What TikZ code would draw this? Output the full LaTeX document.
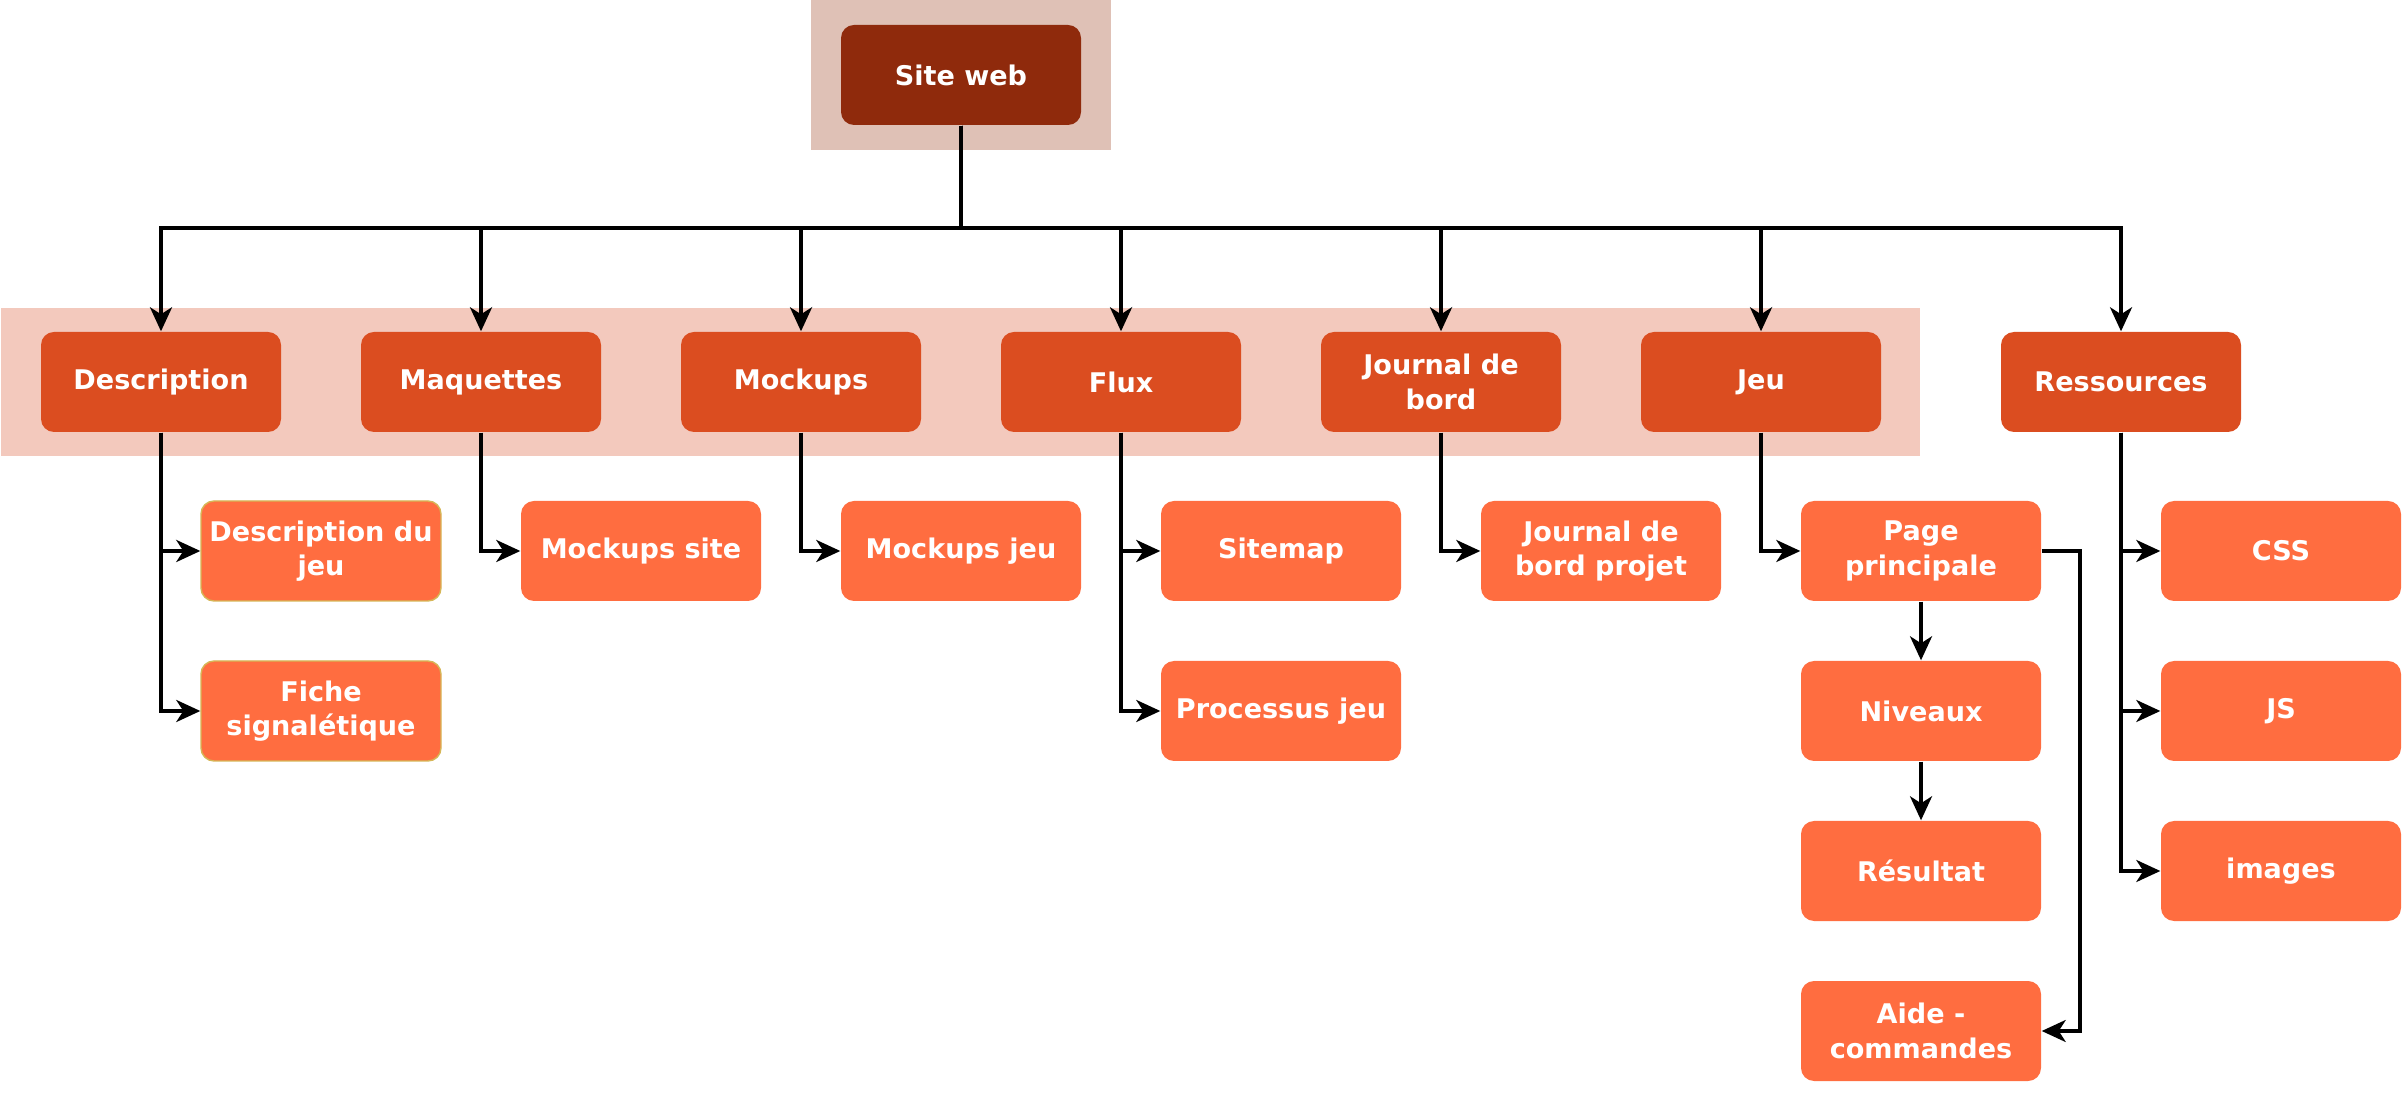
\documentclass[tikz,border=0pt]{standalone}
\usepackage{fontspec}
\setmainfont{DejaVu Sans}
\usetikzlibrary{arrows.meta}
\definecolor{sitefill}{HTML}{8F2A0C}
\definecolor{sitebg}{HTML}{DFC1B6}
\definecolor{rowfill}{HTML}{DB4D20}
\definecolor{rowbg}{HTML}{F3C9BD}
\definecolor{leaffill}{HTML}{FF6D40}
\definecolor{leafline}{HTML}{D6B656}
\tikzset{
  box/.style={rectangle,rounded corners=0.13cm,minimum width=2.4cm,minimum height=1cm,
    text=white,align=center,font=\fontsize{7.7}{9.8}\selectfont\bfseries,inner sep=0pt},
  rootbox/.style={box,fill=sitefill},
  rowbox/.style={box,fill=rowfill},
  leafbox/.style={box,fill=leaffill},
  arr/.style={line width=1pt,-{Stealth[length=0.24cm,width=0.22cm,inset=0.07cm]}},
}
\begin{document}
\begin{tikzpicture}
\useasboundingbox (0,0) rectangle (24.02,-10.98);
\fill[sitebg] (8.11,0) rectangle (11.11,-1.50);
\fill[rowbg] (0.01,-3.08) rectangle (19.20,-4.56);
%
\node at (9.61,-0.75) [rootbox] (site) {Site web};
%
\node at (1.61,-3.82) [rowbox] (desc) {Description};
\node at (4.81,-3.82) [rowbox] (maq) {Maquettes};
\node at (8.01,-3.82) [rowbox] (mock) {Mockups};
\node at (11.21,-3.82) [rowbox] (flux) {Flux};
\node at (14.41,-3.82) [rowbox] (journal) {Journal de\\bord};
\node at (17.61,-3.82) [rowbox] (jeu) {Jeu};
\node at (21.21,-3.82) [rowbox] (res) {Ressources};
%
\node at (3.21,-5.51) [leafbox,draw=leafline,thin] (descjeu) {Description du\\jeu};
\node at (3.21,-7.11) [leafbox,draw=leafline,thin] (fiche) {Fiche\\signalétique};
\node at (6.41,-5.51) [leafbox] (mocksite) {Mockups site};
\node at (9.61,-5.51) [leafbox] (mockjeu) {Mockups jeu};
\node at (12.81,-5.51) [leafbox] (sitemap) {Sitemap};
\node at (12.81,-7.11) [leafbox] (processus) {Processus jeu};
\node at (16.01,-5.51) [leafbox] (jbprojet) {Journal de\\bord projet};
\node at (19.21,-5.51) [leafbox] (page) {Page\\principale};
\node at (19.21,-7.11) [leafbox] (niveaux) {Niveaux};
\node at (19.21,-8.71) [leafbox] (resultat) {Résultat};
\node at (19.21,-10.31) [leafbox] (aide) {Aide -\\commandes};
\node at (22.81,-5.51) [leafbox] (css) {CSS};
\node at (22.81,-7.11) [leafbox] (js) {JS};
\node at (22.81,-8.71) [leafbox] (images) {images};
%
\coordinate (bus) at (9.61,-2.28);
\coordinate (side) at (20.80,-5.51);
%
\draw[arr] (site.south) -- (bus) -| (desc.north);
\draw[arr] (site.south) -- (bus) -| (maq.north);
\draw[arr] (site.south) -- (bus) -| (mock.north);
\draw[arr] (site.south) -- (bus) -| (flux.north);
\draw[arr] (site.south) -- (bus) -| (journal.north);
\draw[arr] (site.south) -- (bus) -| (jeu.north);
\draw[arr] (site.south) -- (bus) -| (res.north);
%
\draw[arr] (desc.south) |- (descjeu.west);
\draw[arr] (desc.south) |- (fiche.west);
\draw[arr] (maq.south) |- (mocksite.west);
\draw[arr] (mock.south) |- (mockjeu.west);
\draw[arr] (flux.south) |- (sitemap.west);
\draw[arr] (flux.south) |- (processus.west);
\draw[arr] (journal.south) |- (jbprojet.west);
\draw[arr] (jeu.south) |- (page.west);
\draw[arr] (res.south) |- (css.west);
\draw[arr] (res.south) |- (js.west);
\draw[arr] (res.south) |- (images.west);
%
\draw[arr] (page) -- (niveaux);
\draw[arr] (niveaux) -- (resultat);
\draw[arr] (page.east) -- (side) |- (aide.east);
\end{tikzpicture}
\end{document}
